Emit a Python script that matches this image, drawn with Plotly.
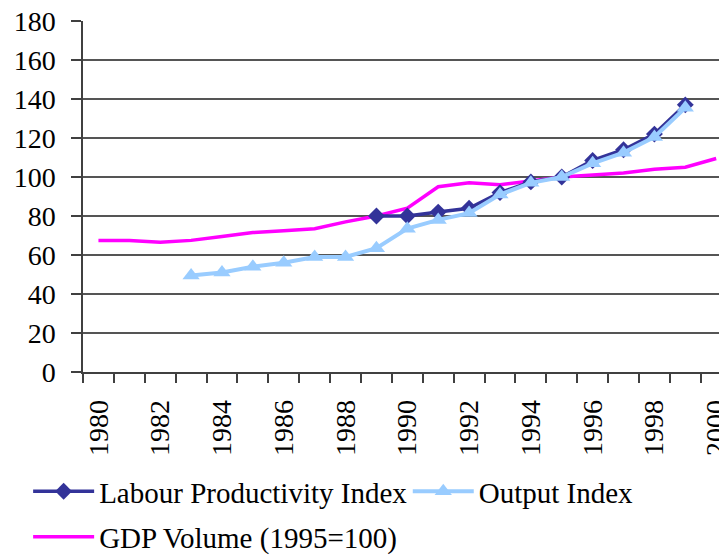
import plotly.graph_objects as go

years_gdp = list(range(1980, 2001))
gdp_volume = [67.5, 67.5, 66.5, 67.5, 69.5, 71.5, 72.5, 73.5, 77, 80, 84,
              95, 97, 96, 98, 100, 101, 102, 104, 105, 109.5]

years_lab = list(range(1989, 2000))
labour_productivity = [80, 80, 82, 84, 92, 97.5, 100, 108.5, 114, 122, 137]

years_out = list(range(1983, 2000))
output_index = [49.5, 51, 54, 56, 59, 59, 63.5, 73.5, 78, 81.5, 91, 97,
                100, 107, 112.5, 120.5, 135.5]

y_ticks = list(range(0, 181, 20))
x_label_years = list(range(1980, 2001, 2))
x_boundaries = [y - 0.5 for y in range(1980, 2002)]

FONT = "serif"
FS = 28
LFS = 29

fig = go.Figure()
fig.add_trace(go.Scatter(
    x=years_gdp, y=gdp_volume, mode="lines", name="GDP Volume (1995=100)",
    line=dict(color="#FF00FF", width=3.5), legend="legend2"))
fig.add_trace(go.Scatter(
    x=years_lab, y=labour_productivity, mode="lines+markers",
    name="Labour Productivity Index",
    line=dict(color="#333399", width=3.5),
    marker=dict(symbol="diamond", size=13, color="#333399")))
fig.add_trace(go.Scatter(
    x=years_out, y=output_index, mode="lines+markers", name="Output Index",
    line=dict(color="#99CCFF", width=4),
    marker=dict(symbol="triangle-up", size=15, color="#99CCFF"),
    legend="legend3"))

legend_common = dict(orientation="h", xref="container", yref="container",
                     xanchor="left", yanchor="top",
                     font=dict(family=FONT, size=LFS), itemwidth=61,
                     bgcolor="rgba(0,0,0,0)")

# the page body has an 8px margin, so the figure is shifted by 8px
fig.update_layout(
    width=719, height=549,
    margin=dict(l=75, r=0, t=13, b=185),
    paper_bgcolor="white", plot_bgcolor="white",
    font=dict(family=FONT, size=FS, color="black"),
    showlegend=True,
    legend=dict(legend_common, x=0.028, y=0.166),
    legend3=dict(legend_common, x=0.556, y=0.166),
    legend2=dict(legend_common, x=0.028, y=0.083),
)

fig.update_xaxes(
    range=[1979.5, 2000.35], automargin=False,
    tickmode="array", tickvals=x_label_years, ticktext=[str(y) for y in x_label_years],
    tickangle=-90, ticks="outside", ticklen=9, tickcolor="rgba(0,0,0,0)",
    ticklabeloverflow="allow", ticklabelstandoff=6,
    showgrid=False, zeroline=False,
    showline=True, linecolor="#404040", linewidth=1.5,
    minor=dict(tickmode="array", tickvals=x_boundaries, ticks="outside",
               ticklen=9, tickcolor="#404040", tickwidth=1.5, showgrid=False),
    tickfont=dict(family=FONT, size=FS, color="black"),
)

fig.update_yaxes(
    range=[0, 180], automargin=False,
    tickmode="array", tickvals=y_ticks,
    ticks="outside", ticklen=10, tickcolor="#404040", tickwidth=1.5,
    ticklabeloverflow="allow",
    showgrid=False, zeroline=False,
    showline=True, linecolor="#404040", linewidth=1.5,
    minor=dict(tickmode="array", tickvals=y_ticks[1:-1], ticks="",
               showgrid=True, gridcolor="#555555", gridwidth=1.5),
    tickfont=dict(family=FONT, size=FS, color="black"),
    ticklabelstandoff=10,
)

fig.write_html("out.html")
